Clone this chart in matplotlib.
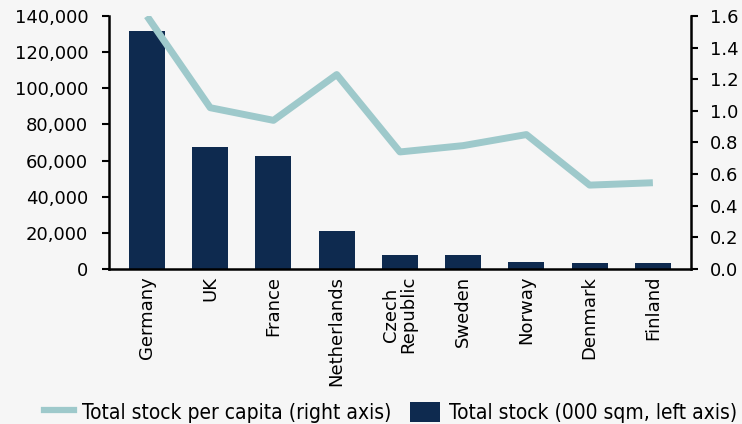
import matplotlib
matplotlib.use("Agg")
import matplotlib.pyplot as plt
from matplotlib.lines import Line2D
from matplotlib.patches import Patch
from matplotlib.ticker import FuncFormatter, MultipleLocator
from matplotlib import font_manager

countries = ["Germany", "UK", "France", "Netherlands", "Czech\nRepublic",
             "Sweden", "Norway", "Denmark", "Finland"]
total_stock = [131700, 67500, 62500, 21000, 7700, 7700, 3900, 3300, 3300]
stock_per_capita = [1.60, 1.02, 0.94, 1.23, 0.74, 0.78, 0.85, 0.53, 0.545]

bar_color = "#0e2a4f"
line_color = "#9ec9cb"
bg = "#f6f6f6"

plt.rcParams["font.family"] = ["DejaVu Sans"]

fig = plt.figure(figsize=(7.42, 4.24), dpi=100, facecolor=bg)
ax = fig.add_axes([0.147, 0.366, 0.784, 0.596], facecolor=bg)
x = list(range(len(countries)))
ax.bar(x, total_stock, width=0.57, color=bar_color, zorder=2)
ax.set_xlim(-0.6, 8.6)
ax.set_ylim(0, 140000)
ax.yaxis.set_major_locator(MultipleLocator(20000))
ax.yaxis.set_major_formatter(FuncFormatter(lambda v, p: f"{int(v):,}"))
ax.set_xticks(x)
ax.set_xticklabels(countries, rotation=90, fontsize=13, linespacing=0.95)
ax.tick_params(axis="x", length=0, pad=5)
ax.tick_params(axis="y", length=5, width=1.5, labelsize=13, pad=10)
for s in ("top", "right"):
    ax.spines[s].set_visible(False)
ax.spines["left"].set_linewidth(1.8)
ax.spines["bottom"].set_linewidth(1.8)

ax2 = ax.twinx()
ax2.plot(x, stock_per_capita, color=line_color, lw=5, solid_capstyle="butt",
         zorder=3)
ax2.set_ylim(0, 1.6)
ax2.yaxis.set_major_locator(MultipleLocator(0.2))
ax2.yaxis.set_major_formatter(FuncFormatter(lambda v, p: f"{v:.1f}"))
ax2.tick_params(axis="y", length=5, width=1.5, labelsize=13, pad=9)
for s in ("top", "left", "bottom"):
    ax2.spines[s].set_visible(False)
ax2.spines["right"].set_linewidth(1.8)

handles = [Line2D([0], [0], color=line_color, lw=4.5),
           Patch(facecolor=bar_color)]
labels = ["Total stock per capita (right axis)", "Total stock (000 sqm, left axis)"]
legend_font = font_manager.FontProperties(family="DejaVu Sans", stretch="condensed",
                                          size=15)
fig.legend(handles, labels, loc="center", bbox_to_anchor=(0.526, 0.028), ncol=2,
           frameon=False, prop=legend_font, handlelength=1.45, handleheight=1.1,
           handletextpad=0.4, columnspacing=0.87, borderpad=0, borderaxespad=0)

fig.savefig("out.png", dpi=100, facecolor=bg)
